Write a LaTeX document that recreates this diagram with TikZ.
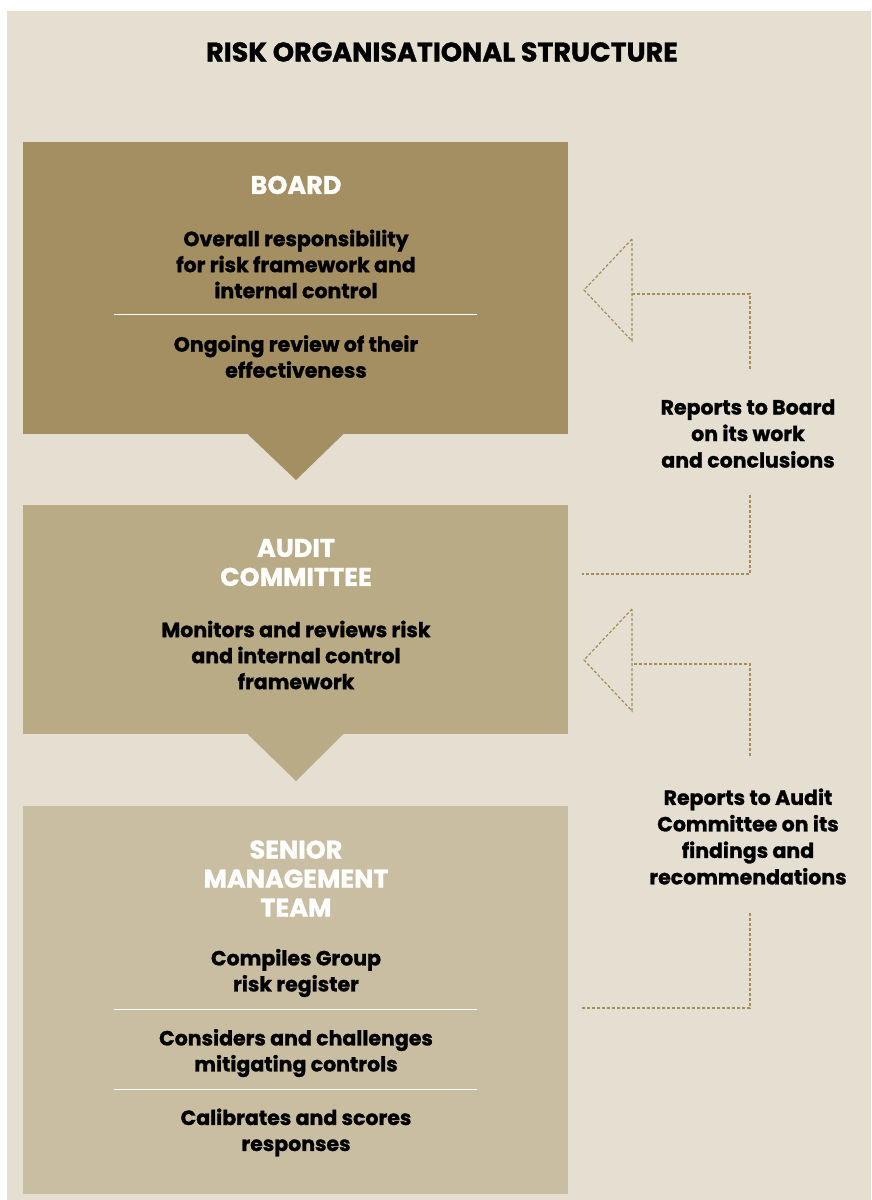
\documentclass[tikz,border=0pt]{standalone}
\usepackage{fontspec}
\setmainfont{Poppins}[BoldFont=* Bold,BoldFeatures={FakeBold=1.2}]
\definecolor{bgc}{HTML}{E5DFD2}
\definecolor{boardc}{HTML}{A38F61}
\definecolor{auditc}{HTML}{BAAB87}
\definecolor{seniorc}{HTML}{C9BEA2}
\definecolor{dashc}{HTML}{A38D5A}
\begin{document}
\begin{tikzpicture}[x=1pt,y=-1pt,
  box/.style={draw=none,inner sep=0pt,minimum width=545pt},
  head/.style={text=white,font=\bfseries\fontsize{25.5}{29}\selectfont,align=center,inner sep=0pt},
  body/.style={text=black,font=\bfseries\fontsize{20.5}{26}\selectfont,align=center,inner sep=0pt},
  side/.style={text=black,font=\bfseries\fontsize{20.5}{26.5}\selectfont,align=center,inner sep=0pt},
  sep/.style={draw=white,line width=1pt},
  dashline/.style={draw=dashc,line width=1.2pt,dash pattern=on 3pt off 2pt}]
\useasboundingbox (0,0) rectangle (871,1200);
\fill[white] (0,0) rectangle (871,1200);
\fill[bgc] (7,11) rectangle (871,1200);
% title
\node[font=\bfseries\fontsize{27}{30}\selectfont,inner sep=0pt] (title) at (442,52) {RISK ORGANISATIONAL STRUCTURE};
% boxes
\node[box,fill=boardc,minimum height=292pt] (board) at (295.5,288) {};
\node[box,fill=auditc,minimum height=229pt] (audit) at (295.5,619.5) {};
\node[box,fill=seniorc,minimum height=388pt] (senior) at (295,1000) {};
% pointers
\fill[boardc] (247,433.5) -- (344,433.5) -- (296,480) -- cycle;
\fill[auditc] (247,733.5) -- (344,733.5) -- (296,781) -- cycle;
% board text
\node[head] (bh) at (296,185) {BOARD};
\node[body] (b1) at (296,264) {Overall responsibility\\for risk framework and\\internal control};
\draw[sep] (114,314.5) -- (477,314.5);
\node[body] (b2) at (296,356.5) {Ongoing review of their\\effectiveness};
% audit text
\node[head] (ah) at (296,562.5) {AUDIT\\COMMITTEE};
\node[body] (a1) at (296,655) {Monitors and reviews risk\\and internal control\\framework};
% senior text
\node[head] (sh) at (296,878.5) {SENIOR\\MANAGEMENT\\TEAM};
\node[body] (s1) at (296,973) {Compiles Group\\risk register};
\draw[sep] (114,1009.5) -- (477,1009.5);
\node[body] (s2) at (296,1053) {Considers and challenges\\mitigating controls};
\draw[sep] (114,1089.5) -- (477,1089.5);
\node[body] (s3) at (296,1132.5) {Calibrates and scores\\responses};
% side labels
\node[side] (r1) at (748,433.5) {Reports to Board\\on its work\\and conclusions};
\node[side] (r2) at (748,836.5) {Reports to Audit\\Committee on its\\findings and\\recommendations};
% connector coordinates
\coordinate (r1top) at (750,369);
\coordinate (r1bot) at (750,495);
\coordinate (r2top) at (750,756);
\coordinate (r2bot) at (750,913);
% dashed arrow audit -> board
\draw[dashline] (r1bot) -- (750,574) -- (582,574);
\draw[dashline] (r1top) -- (750,294) -- (632,294);
\draw[dashline] (632,239) -- (584,290) -- (632,341) -- cycle;
% dashed arrow senior -> audit
\draw[dashline] (r2bot) -- (750,1008) -- (582,1008);
\draw[dashline] (r2top) -- (750,664) -- (632,664);
\draw[dashline] (632,609) -- (584,660) -- (632,711) -- cycle;
\end{tikzpicture}
\end{document}
